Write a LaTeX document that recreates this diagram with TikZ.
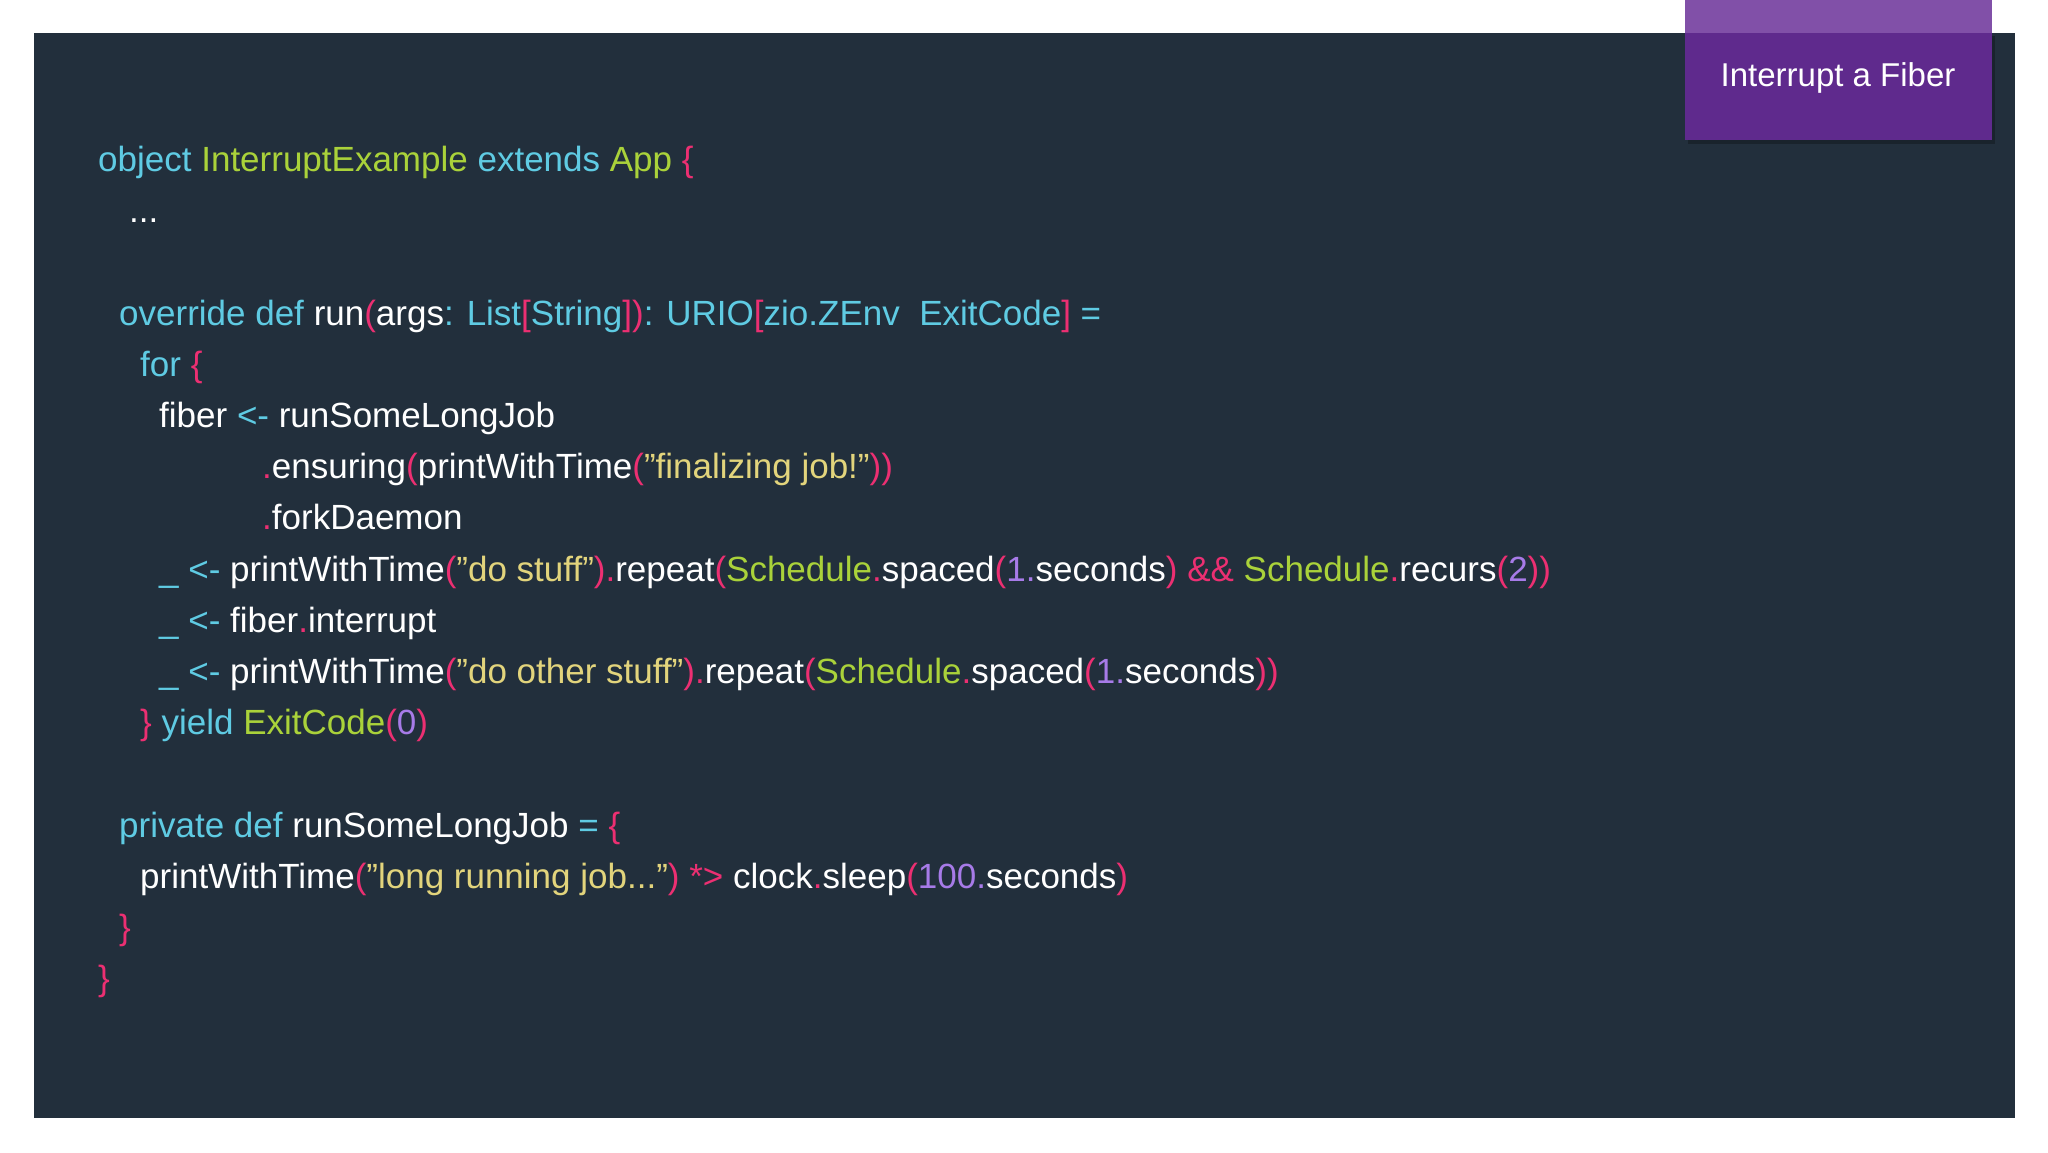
\documentclass[tikz,border=0pt]{standalone}
\usepackage{fontspec}
\setmainfont{Liberation Sans}
\definecolor{bg}{HTML}{222F3C}
\definecolor{cc}{HTML}{5FCBE3}
\definecolor{cg}{HTML}{AAD23A}
\definecolor{cp}{HTML}{EC2F72}
\definecolor{cy}{HTML}{E2D47C}
\definecolor{cv}{HTML}{A77BE8}
\definecolor{boxd}{HTML}{5F2A8D}
\definecolor{boxl}{HTML}{8150A8}
\newcommand{\kC}[1]{\textcolor{cc}{#1}}
\newcommand{\kG}[1]{\textcolor{cg}{#1}}
\newcommand{\kP}[1]{\textcolor{cp}{#1}}
\newcommand{\kY}[1]{\textcolor{cy}{#1}}
\newcommand{\kV}[1]{\textcolor{cv}{#1}}
\tikzset{code/.style={anchor=base west,inner sep=0pt,text=white,font=\fontsize{35}{42}\selectfont}}
\begin{document}
\begin{tikzpicture}[x=1pt,y=-1pt]
\useasboundingbox (0,0) rectangle (2048,1152);
\fill[white] (0,0) rectangle (2048,1152);
\fill[bg] (34,33) rectangle (2015,1118);
\fill[black,opacity=0.25] (1688,36) rectangle (1995,144);
\fill[boxl] (1685,0) rectangle (1992,33);
\fill[boxd] (1685,33) rectangle (1992,140);
\node[code,anchor=center,font=\fontsize{33}{40}\selectfont] (title) at (1838,78) {Interrupt a Fiber};
\node[code] (l1) at (98,171) {\kC{object} \kG{InterruptExample} \kC{extends} \kG{App} \kP{\{}};
\node[code] (l2) at (129,222) {...};
\node[code] (l3) at (119,325) {\kC{override def} run\kP{(}args\kC{:} \kC{List}\kP{[}\kC{String}\kP{])}\kC{:} \kC{URIO}\kP{[}\kC{zio.ZEnv\ \ ExitCode}\kP{]} \kC{=}};
\node[code] (l4) at (140,376) {\kC{for} \kP{\{}};
\node[code] (l5) at (159,427) {fiber \kC{<-} runSomeLongJob};
\node[code] (l6) at (262,478) {\kP{.}ensuring\kP{(}printWithTime\kP{(}\kY{"finalizing job!"}\kP{))}};
\node[code] (l7) at (262,529) {\kP{.}forkDaemon};
\node[code] (l8) at (159,581) {\kC{\_ <-} printWithTime\kP{(}\kY{"do stuff"}\kP{).}repeat\kP{(}\kG{Schedule}\kP{.}spaced\kP{(}\kV{1.}seconds\kP{) \&\&} \kG{Schedule}\kP{.}recurs\kP{(}\kV{2}\kP{))}};
\node[code] (l9) at (159,632) {\kC{\_ <-} fiber\kP{.}interrupt};
\node[code] (l10) at (159,683) {\kC{\_ <-} printWithTime\kP{(}\kY{"do other stuff"}\kP{).}repeat\kP{(}\kG{Schedule}\kP{.}spaced\kP{(}\kV{1.}seconds\kP{))}};
\node[code] (l11) at (140,734) {\kP{\}} \kC{yield} \kG{ExitCode}\kP{(}\kV{0}\kP{)}};
\node[code] (l12) at (119,837) {\kC{private def} runSomeLongJob \kC{=} \kP{\{}};
\node[code] (l13) at (140,888) {printWithTime\kP{(}\kY{"long running job..."}\kP{) *>} clock\kP{.}sleep\kP{(}\kV{100.}seconds\kP{)}};
\node[code] (l14) at (119,939) {\kP{\}}};
\node[code] (l15) at (98,990) {\kP{\}}};
\end{tikzpicture}
\end{document}
